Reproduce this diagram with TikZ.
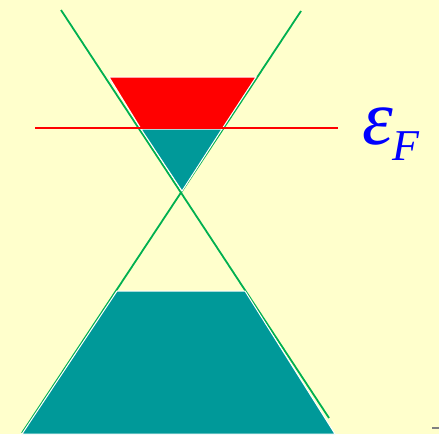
\documentclass[tikz,border=0pt]{standalone}
\usepackage{fontspec}
\newfontfamily\timesfont{Liberation Serif}
\usepackage{tikz}
\definecolor{paleyellow}{RGB}{255,255,204}
\definecolor{conegreen}{RGB}{0,176,80}
\definecolor{bandteal}{RGB}{0,153,153}
\definecolor{fermired}{RGB}{255,0,0}
\definecolor{fermiblue}{RGB}{0,0,255}

\begin{document}
\begin{tikzpicture}[x=1pt,y=-1pt]
  \fill[paleyellow] (0,0) rectangle (439,434);
  \useasboundingbox (0,0) rectangle (439,434);
  % cone lines
  \coordinate (tl) at (61,10);  \coordinate (br) at (329,418);
  \coordinate (tr) at (301,11); \coordinate (bl) at (22,433);
  \draw[conegreen,line width=1.8] (tl) -- (br);
  \draw[conegreen,line width=1.8] (tr) -- (bl);
  % filled states
  \filldraw[fermired,draw=white,line width=1]
    (109,77) -- (256,77) -- (222,129) -- (141,129) -- cycle;
  \filldraw[bandteal,draw=white,line width=1]
    (141,129) -- (222,129) -- (182,191) -- cycle;
  \filldraw[bandteal,draw=white,line width=1]
    (117,291) -- (245,291) -- (335,434) -- (22,434) -- cycle;
  % Fermi level
  \coordinate (efl) at (35,128); \coordinate (efr) at (338,128);
  \draw[fermired,line width=1.8] (efl) -- (efr);
  \node[anchor=base west,inner sep=0pt,text=fermiblue] (fermi) at (362,144)
    {\timesfont\itshape\fontsize{78}{80}\selectfont ε\raisebox{-16pt}{\fontsize{44}{46}\selectfont F}};
  \draw[gray,line width=1.5] (432,428) -- (439,428);
\end{tikzpicture}
\end{document}
